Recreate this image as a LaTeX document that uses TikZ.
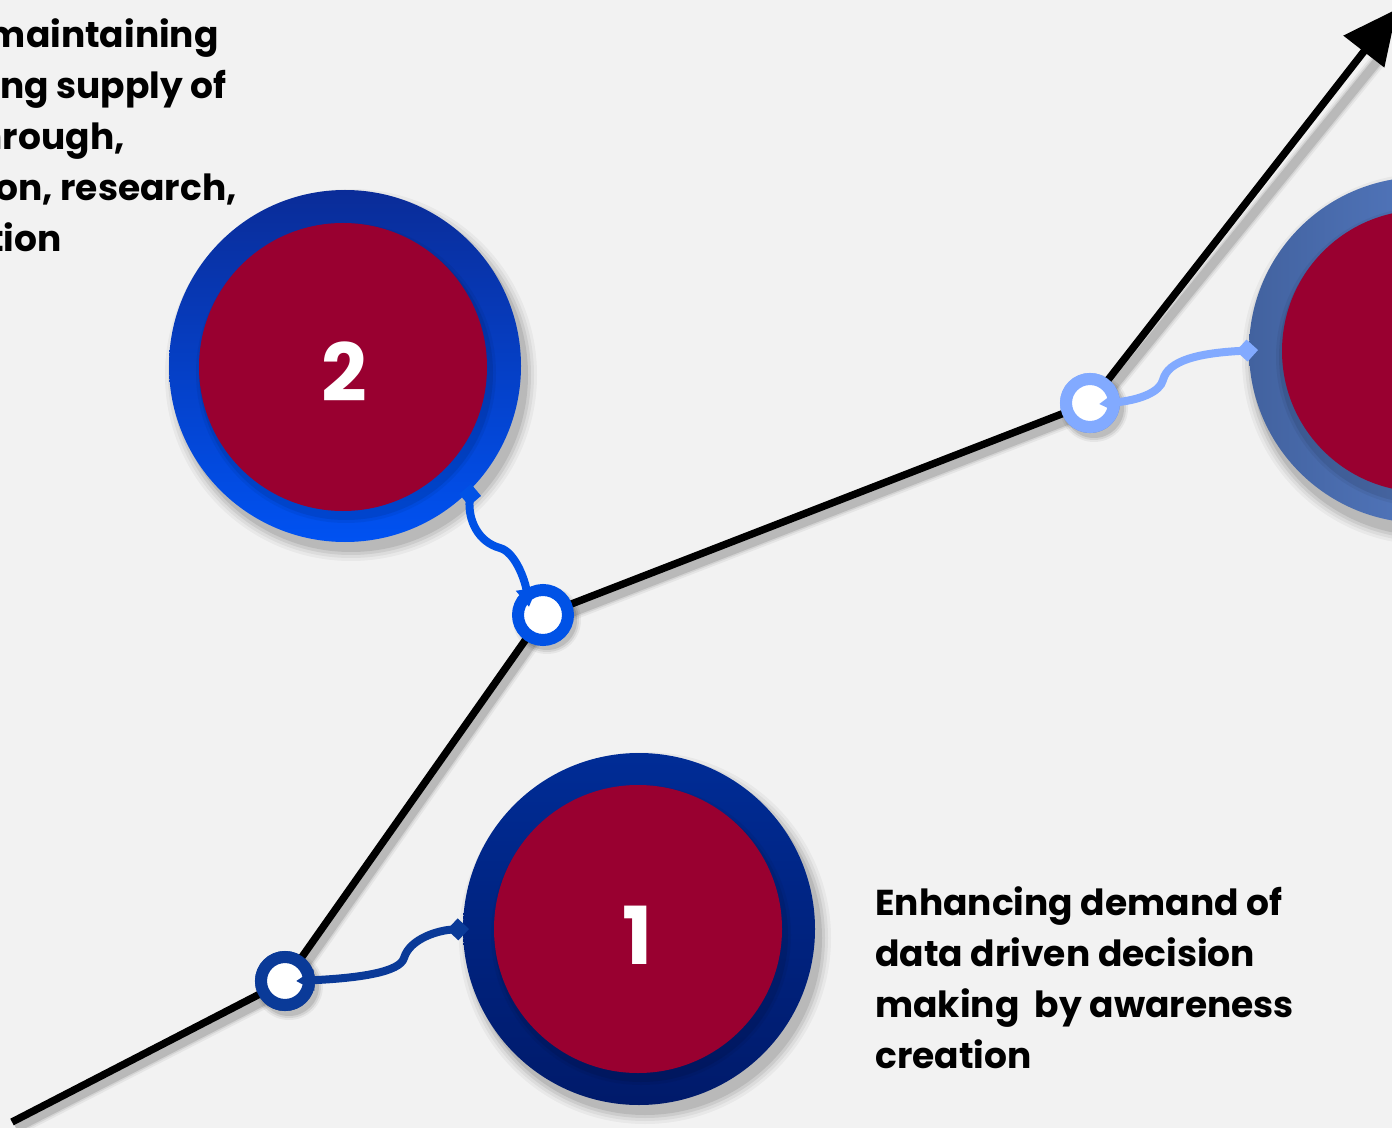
\documentclass[tikz,border=0pt]{standalone}
\usepackage{fontspec}
\setmainfont{Poppins}
\usetikzlibrary{arrows.meta,calc}
\definecolor{bg}{HTML}{F2F2F2}
\definecolor{crim}{HTML}{990030}
\definecolor{oneA}{HTML}{002C96}
\definecolor{oneB}{HTML}{001A6A}
\definecolor{twoA}{HTML}{0A2C98}
\definecolor{twoB}{HTML}{0052F2}
\definecolor{thrA}{HTML}{42629F}
\definecolor{thrB}{HTML}{6089D8}
\definecolor{dotA}{HTML}{0A3A98}
\definecolor{dotB}{HTML}{0052E6}
\definecolor{dotC}{HTML}{82AAFF}
\tikzset{
  ring/.style={circle, inner sep=0pt, minimum size=176pt},
  core/.style={circle, inner sep=0pt, minimum size=144pt, fill=crim},
  numtxt/.style={font=\bfseries\fontsize{40}{40}\selectfont, text=white},
  dot/.style={circle, inner sep=0pt, minimum size=24pt, fill=white, line width=6pt},
  wire/.style={line width=4pt, {Triangle[length=9pt,width=10pt]}-{Diamond[length=11pt,width=11pt]}},
  label/.style={font=\bfseries\fontsize{18}{25.5}\selectfont, text=black, inner sep=0pt},
}
\begin{document}
\begin{tikzpicture}[x=0.5pt,y=-0.5pt]
\fill[bg] (0,0) rectangle (1392,1128);
\useasboundingbox (0,0) rectangle (1392,1128);
\begin{scope}
\clip (0,0) rectangle (1392,1128);
% shadows of main line
\foreach \w/\o in {16/0.05,12/0.08,9/0.12}{
  \draw[black, opacity=\o, line width=\w*0.5pt, line join=round]
    (16,1128) -- (289,988) -- (547,622) -- (1094,410) -- (1380,58);
}
% main line
\coordinate (p0) at (12,1122);
\coordinate (p4) at (1397,9);
\node[dot, draw=dotA] (d1) at (285,981) {};
\node[dot, draw=dotB] (d2) at (543,615) {};
\node[dot, draw=dotC] (d3) at (1090,403) {};
\draw[line width=3.7pt, -{Triangle[length=27pt,width=25pt]}]
  (p0) -- (d1.center) -- (d2.center) -- (d3.center) -- (p4);
% small circles drawn again over the line, with shadows
\foreach \n in {d1,d2,d3}{
  \foreach \r/\o in {34/0.05,32/0.08,30/0.1}{
    \fill[black, opacity=\o] ($(\n.center)+(4,5)$) circle[radius=\r*0.5pt];
  }
}
\node[dot, draw=dotA] at (d1.center) {};
\node[dot, draw=dotB, minimum size=25pt] at (d2.center) {};
\node[dot, draw=dotC] at (d3.center) {};
% big circles shadows
\foreach \x/\y in {639/929,345/366,1422/350}{
  \foreach \r/\o in {186/0.04,183/0.05,180/0.07,177/0.09}{
    \fill[black, opacity=\o] (\x+6,\y+9) circle[radius=\r*0.5pt];
  }
}
% big circles
\node[ring, top color=oneA, bottom color=oneB] (r1) at (639,929) {};
\node[ring, top color=twoA, bottom color=twoB] (r2) at (345,366) {};
\node[ring, minimum size=173pt, left color=thrA, right color=thrB] (r3) at (1422,350) {};
\foreach \x/\y in {638/931,343/369,1423/353}{
  \foreach \r/\o in {150/0.05,147/0.08}{
    \fill[black, opacity=\o] (\x+3,\y+4) circle[radius=\r*0.5pt];
  }
}
\node[core] (c1) at (638,929) {};
\node[core] (c2) at (343,367) {};
\node[core, minimum size=141pt] (c3) at (1423,351) {};
\node[numtxt] (n1) at (638,935) {1};
\node[numtxt] (n2) at (344,372) {2};
% connectors
\coordinate (s1) at (296,981);
\coordinate (e1) at (469,929);
\coordinate (s2) at (529,607);
\coordinate (e2) at (471,484);
\coordinate (s3) at (1099,404);
\coordinate (e3) at (1258,350);
\draw[wire, draw=dotA] (s1) .. controls (360,978) and (400,972) .. (404,958) .. controls (410,938) and (440,930) .. (e1);
\draw[wire, draw=dotB] (s2) .. controls (525,580) and (515,552) .. (500,548) .. controls (478,542) and (468,520) .. (e2);
\draw[wire, draw=dotC] (s3) .. controls (1140,400) and (1160,392) .. (1163,380) .. controls (1168,360) and (1200,353) .. (e3);
% texts
\node[label, anchor=north west, align=left] (t1) at (875,886)
  {Enhancing demand of\\data driven decision\\making\ \ by awareness\\creation};
\node[label, anchor=base east] (u1) at (219,48) {maintaining};
\node[label, anchor=base east] (u2) at (227,99) {ng supply of};
\node[label, anchor=base east] (u3) at (125,150) {hrough,};
\node[label, anchor=base east] (u4) at (237,201) {on, research,};
\node[label, anchor=base east] (u5) at (62,252) {tion};
\end{scope}
\end{tikzpicture}
\end{document}
